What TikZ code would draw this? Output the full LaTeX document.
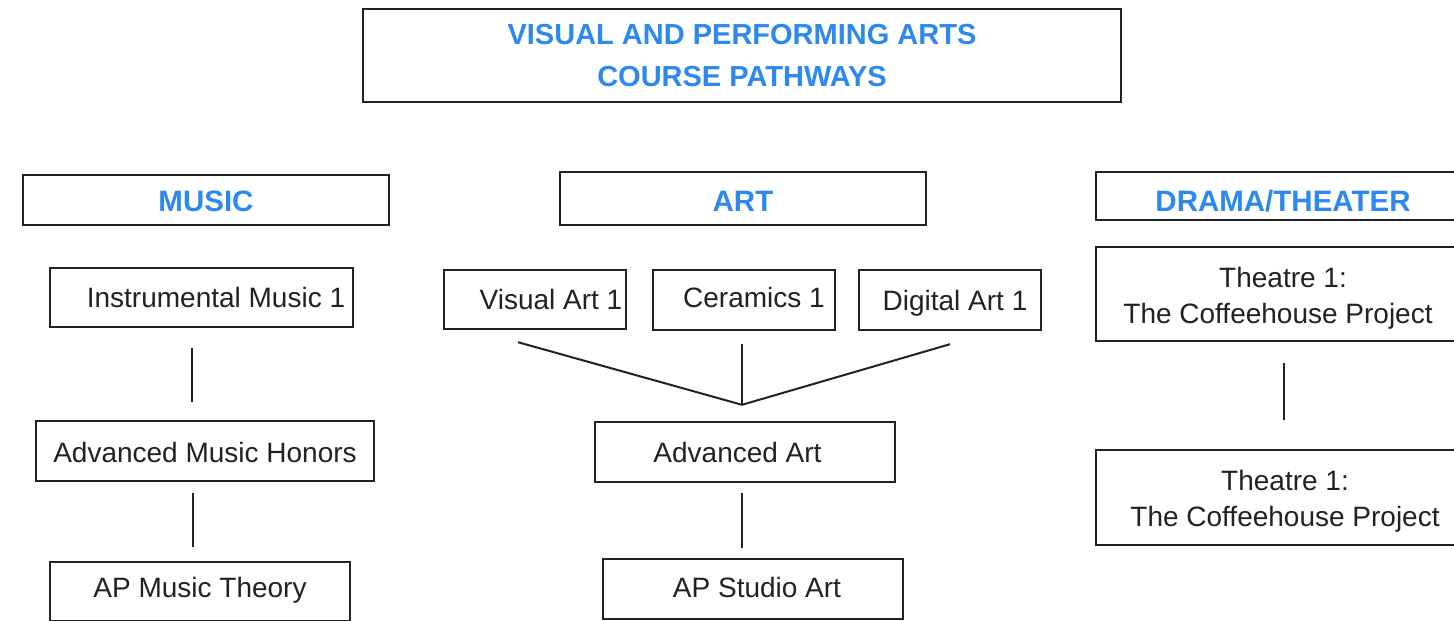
\documentclass[tikz,border=0pt]{standalone}
\usepackage{fontspec}
\setmainfont{Liberation Sans}
\usetikzlibrary{calc}
\definecolor{hdblue}{RGB}{45,137,240}
\definecolor{ink}{RGB}{34,34,34}
\tikzset{
  box/.style={draw=ink, line width=2.4pt, fill=white, inner sep=0pt, align=center, text=ink,
    font=\fontsize{28}{36}\selectfont},
  onebox/.style={box, text height=20pt, text depth=0pt},
  twobox/.style={box, text height=14pt, text depth=0pt},
  hdbox/.style={box, text=hdblue, font=\fontsize{29.5}{36}\bfseries\selectfont, text height=21.1pt, text depth=0pt},
  titlebox/.style={box, text=hdblue, font=\fontsize{29}{42}\bfseries\selectfont},
  conn/.style={draw=ink, line width=2pt}
}
\begin{document}
\begin{tikzpicture}[x=1pt,y=-1pt]
\clip (0,0) rectangle (1454,621);
\fill[white] (0,0) rectangle (1454,621);
% title
\node[titlebox, minimum width=758pt, minimum height=93pt] (title) at (742,55.5)
  {VISUAL AND PERFORMING ARTS\\COURSE PATHWAYS};
% headers
\node[hdbox, minimum width=366pt, minimum height=50pt] (music) at (206,200) {\raisebox{-1pt}{MUSIC}};
\node[hdbox, minimum width=366pt, minimum height=53pt] (art) at (743,198.5) {\raisebox{-2.5pt}{ART}};
\node[hdbox, minimum width=374pt, minimum height=48pt] (drama) at (1283,196) {\raisebox{-5pt}{DRAMA/THEATER}};
% music column
\node[onebox, minimum width=303pt, minimum height=59pt] (im1) at (201.5,297.5) {\hspace*{29pt}Instrumental Music 1};
\node[onebox, minimum width=338pt, minimum height=60pt] (amh) at (205,451) {\raisebox{-1pt}{Advanced Music Honors}};
\node[onebox, minimum width=300pt, minimum height=59pt] (apmt) at (200,591.5) {\raisebox{4.5pt}{AP Music Theory}};
% art column
\node[onebox, minimum width=182pt, minimum height=59pt] (va1) at (535,299.5) {\hspace*{32pt}Visual Art 1};
\node[onebox, minimum width=182pt, minimum height=60pt] (cer1) at (744,300) {\hspace*{20pt}\raisebox{3pt}{Ceramics 1}};
\node[onebox, minimum width=182pt, minimum height=60pt] (da1) at (950,300) {\hspace*{10pt}Digital Art 1};
\node[onebox, minimum width=300pt, minimum height=60pt] (aa) at (745,452) {Advanced Art\hspace*{15pt}};
\node[onebox, minimum width=300pt, minimum height=60pt] (asa) at (753,589) {\hspace*{8pt}\raisebox{2pt}{AP Studio Art}};
% drama column
\node[twobox, minimum width=374pt, minimum height=94pt] (th1) at (1283,294)
  {\raisebox{-3.8pt}{\begin{tabular}{@{}c@{}}Theatre 1:\\The Coffeehouse Project\hspace*{10pt}\end{tabular}}};
\node[twobox, minimum width=374pt, minimum height=95pt] (th2) at (1283,497.5)
  {\hspace*{4pt}\raisebox{-2.8pt}{\begin{tabular}{@{}c@{}}Theatre 1:\\The Coffeehouse Project\end{tabular}}};
% connectors
\coordinate (join) at ($(aa.north)+(-3,-16)$);
\draw[conn] ($(im1.south)+(-9.5,20)$) -- ($(amh.north)+(-13,-18)$);
\draw[conn] ($(amh.south)+(-12,11)$) -- ($(apmt.north)+(-7,-14)$);
\draw[conn] ($(va1.south)+(-17,12)$) -- (join);
\draw[conn] ($(cer1.south)+(-2,13)$) -- (join);
\draw[conn] ($(da1.south)+(0,13)$) -- (join);
\draw[conn] ($(aa.south)+(-3,10)$) -- ($(asa.north)+(-11,-10)$);
\draw[conn] ($(th1.south)+(1,21)$) -- ($(th2.north)+(1,-29)$);
\end{tikzpicture}
\end{document}
